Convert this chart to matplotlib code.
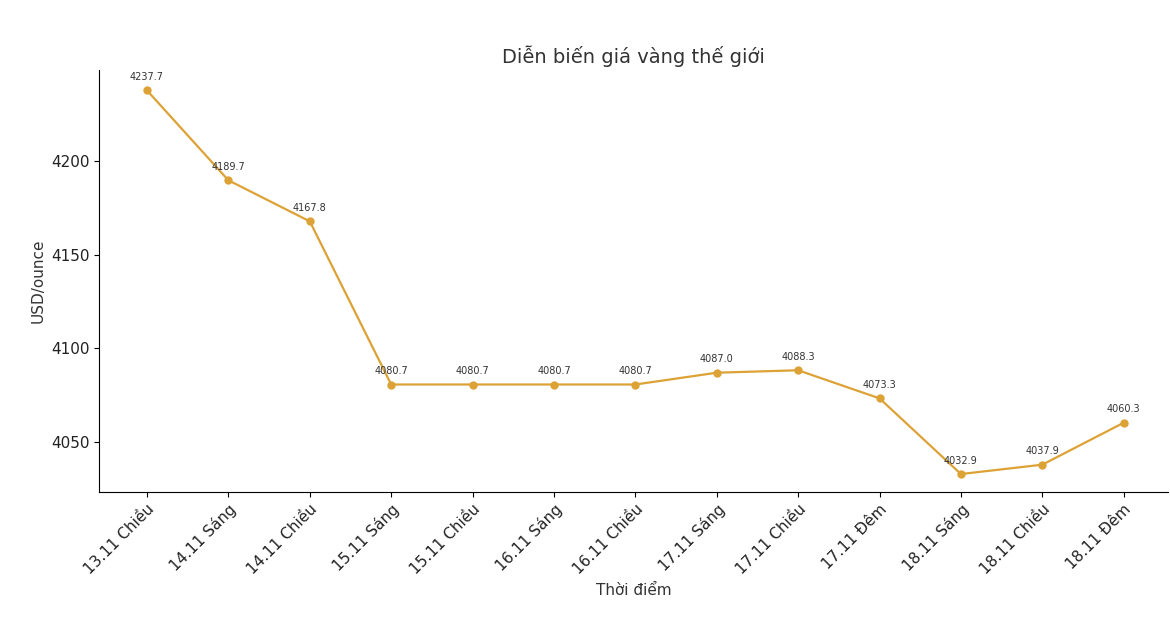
import matplotlib
matplotlib.use("Agg")
import matplotlib.pyplot as plt

labels = ["13.11 Chiều","14.11 Sáng","14.11 Chiều","15.11 Sáng","15.11 Chiều","16.11 Sáng",
          "16.11 Chiều","17.11 Sáng","17.11 Chiều","17.11 Đêm","18.11 Sáng","18.11 Chiều","18.11 Đêm"]
prices = [4237.7,4189.7,4167.8,4080.7,4080.7,4080.7,4080.7,4087.0,4088.3,4073.3,4032.9,4037.9,4060.3]

fig = plt.figure(figsize=(11.7,6.42), dpi=100)
ax = fig.add_axes([0.0846,0.2336,0.9134,0.6574])
x = list(range(len(labels)))
ax.plot(x, prices, color="#DDA236", marker="o", markersize=5, linewidth=1.6)
for xi, p in zip(x, prices):
    ax.annotate(f"{p:.1f}", (xi, p), xytext=(0,6), textcoords="offset points",
                ha="center", va="bottom", fontsize=7, color="#333333")
ax.set_xlim(-0.59, 12.54)
ax.set_ylim(4023.3, 4248.6)
ax.set_yticks([4050,4100,4150,4200])
ax.set_xticks(x)
ax.set_xticklabels(labels, rotation=45, ha="right", rotation_mode="anchor", fontsize=11, color="#222222")
ax.tick_params(axis="y", labelsize=11, labelcolor="#222222")
for s in ["top","right"]:
    ax.spines[s].set_visible(False)
ax.set_title("Diễn biến giá vàng thế giới", fontsize=14, color="#333333", pad=5)
ax.set_xlabel("Thời điểm", fontsize=11, color="#333333")
ax.set_ylabel("USD/ounce", fontsize=11, color="#333333")
fig.savefig("out.png", dpi=100)
